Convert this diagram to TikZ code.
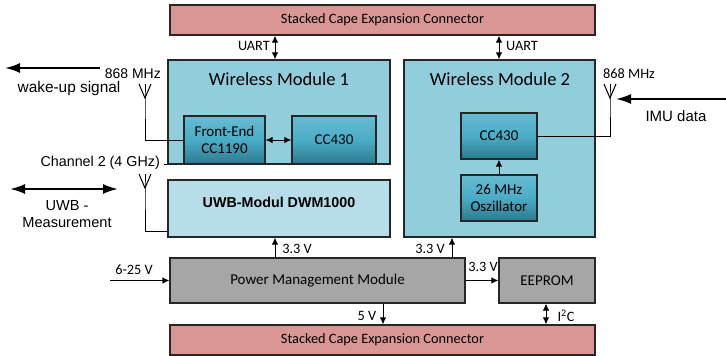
\documentclass[tikz,border=0pt]{standalone}
\usepackage{fontspec}
\setmainfont{Carlito}
\newfontfamily\arial{Liberation Sans}
\usetikzlibrary{arrows.meta}
\definecolor{conn}{HTML}{D99694}
\definecolor{modfill}{HTML}{92CDDC}
\definecolor{uwbfill}{HTML}{B7DDE8}
\definecolor{grayfill}{HTML}{A6A6A6}
\definecolor{edge}{HTML}{262626}
\definecolor{gtop}{HTML}{66BCD2}
\definecolor{gmid}{HTML}{4BACC6}
\definecolor{gbot}{HTML}{2B7A8E}
\tikzset{
  box/.style={draw=edge, line width=1.2pt, inner sep=0pt, font=\fontsize{14.3}{16}\selectfont},
  connbox/.style={box, fill=conn},
  modbox/.style={box, fill=modfill},
  uwbbox/.style={box, fill=uwbfill},
  graybox/.style={box, fill=grayfill, font=\fontsize{15}{17}\selectfont},
  chip/.style={box, top color=gtop, bottom color=gbot, middle color=gmid, align=center, font=\fontsize{15}{17.5}\selectfont},
  title/.style={font=\fontsize{18.5}{20}\selectfont, inner sep=0pt},
  lbl/.style={font=\fontsize{14.3}{16}\selectfont, inner sep=0pt},
  albl/.style={font=\arial\fontsize{14.6}{17}\selectfont, inner sep=0pt, align=center},
  sarr/.style={line width=1pt, -{Latex[length=7pt,width=6.5pt]}},
  sdbl/.style={line width=1pt, {Latex[length=7pt,width=6.5pt]}-{Latex[length=7pt,width=6.5pt]}},
  barr/.style={line width=2pt, -{Latex[length=15pt,width=10pt]}},
  bdbl/.style={line width=2pt, {Latex[length=15pt,width=10pt]}-{Latex[length=15pt,width=10pt]}},
  wire/.style={line width=1pt},
}
\begin{document}
\begin{tikzpicture}[x=1pt,y=-1pt]
\useasboundingbox (0,0) rectangle (726,356);
% boxes
\node[connbox, minimum width=425pt, minimum height=30pt] (topc) at (382.5,20) {Stacked Cape Expansion Connector};
\node[modbox, minimum width=222pt, minimum height=104pt] (wm1) at (279,112) {};
\node[title] (wm1t) at (279,79) {Wireless Module 1};
\node[chip, minimum width=81pt, minimum height=48pt] (fe) at (224.5,140) {Front-End\\CC1190};
\node[chip, minimum width=84pt, minimum height=48pt] (cc1) at (334,140) {CC430};
\node[uwbbox, minimum width=222pt, minimum height=57pt] (uwb) at (279,208.5) {};
\node[font=\arial\bfseries\fontsize{14.3}{16}\selectfont, inner sep=0pt] (uwbt) at (279,202) {UWB-Modul DWM1000};
\node[modbox, minimum width=191pt, minimum height=177pt] (wm2) at (499.5,148.5) {};
\node[title] (wm2t) at (500,79) {Wireless Module 2};
\node[chip, minimum width=76pt, minimum height=46pt] (cc2) at (499,136) {CC430};
\node[chip, minimum width=76pt, minimum height=46pt] (osc) at (499,198) {26 MHz\\Oszillator};
\node[graybox, minimum width=295pt, minimum height=45pt] (pmm) at (317.5,280.5) {Power Management Module};
\node[graybox, minimum width=96pt, minimum height=45pt] (eep) at (547,280.5) {EEPROM};
\node[connbox, minimum width=425pt, minimum height=30pt] (botc) at (382.5,340) {Stacked Cape Expansion Connector};
% UART
\draw[sdbl] (275,0 |- topc.south) -- (275,0 |- wm1.north);
\node[lbl, anchor=east] (u1) at (270,46) {UART};
\draw[sdbl] (cc2 |- topc.south) -- (cc2 |- wm2.north);
\node[lbl, anchor=west] (u2) at (506,46) {UART};
% inside WM1
\draw[sdbl] (fe.east) -- (cc1.west);
\draw[wire] (wm1.south west) -- ++(-3,0);
% antenna 1
\coordinate (a1) at (145,98);
\coordinate (a1t) at (145,84);
\draw[wire] (a1t) -- (a1) -- (a1 |- fe.west) -- (fe.west);
\draw[wire] (139,84) -- (a1) -- (151,84);
\node[albl, anchor=east, font=\arial\fontsize{14}{16}\selectfont] (f1) at (161,74) {868 MHz};
\coordinate (w1) at (100,68);
\coordinate (w2) at (5,68);
\draw[barr] (w1) -- (w2);
\node[albl, font=\arial\fontsize{15.4}{17}\selectfont] (wk) at (69,89) {wake-up signal};
\node[albl, anchor=east, font=\arial\fontsize{14.3}{16}\selectfont] (ch) at (160,163) {Channel 2 (4 GHz)};
% antenna 2
\coordinate (a2) at (145,188);
\coordinate (a2t) at (145,174);
\coordinate (a2b) at (145,231);
\draw[wire] (a2t) -- (a2) -- (a2b) -- (a2b -| uwb.west);
\draw[wire] (139,174) -- (a2) -- (151,174);
\coordinate (m1) at (118,189);
\coordinate (m2) at (10,189);
\draw[bdbl] (m2) -- (m1);
\node[albl] (uwbl) at (67,214) {UWB -\\Measurement};
% WM2 antenna
\coordinate (a3) at (610,98);
\coordinate (a3t) at (610,84);
\draw[wire] (cc2.east) -- (a3 |- cc2.east) -- (a3) -- (a3t);
\draw[wire] (604,84) -- (a3) -- (616,84);
\node[lbl] (f2) at (629,74) {868 MHz};
\coordinate (i1) at (726,99);
\coordinate (i2) at (616,99);
\draw[barr] (i1) -- (i2);
\node[albl, font=\arial\fontsize{15}{17}\selectfont] (imu) at (676,116) {IMU data};
\draw[sarr] (osc.north) -- (cc2.south);
% power
\draw[sarr] (275,0 |- pmm.north) -- (275,0 |- uwb.south);
\node[lbl] (v1) at (297,249) {3.3 V};
\draw[sarr] (452,0 |- pmm.north) -- (452,0 |- wm2.south);
\node[lbl] (v2) at (430,249) {3.3 V};
\coordinate (in) at (110,280.5);
\draw[sarr] (in) -- (pmm.west);
\node[lbl] (v0) at (134,270) {6-25 V};
\draw[sarr] (pmm.east) -- (eep.west);
\node[lbl] (v3) at (483,267) {3.3 V};
\draw[sarr] (383,0 |- pmm.south) -- (383,0 |- botc.north);
\node[lbl] (v5) at (367,316) {5 V};
\draw[sdbl] (546,0 |- eep.south) -- (546,0 |- botc.north);
\node[lbl] (i2c) at (566,316) {I\textsuperscript{2}C};
\end{tikzpicture}
\end{document}
